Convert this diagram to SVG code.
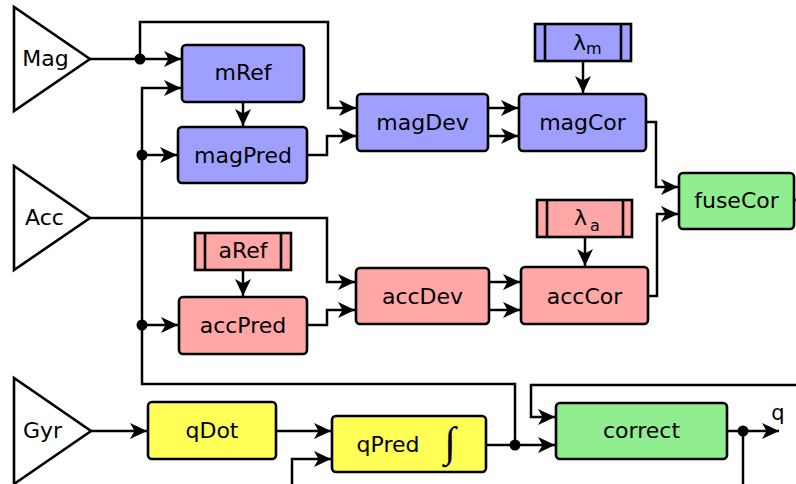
<svg xmlns="http://www.w3.org/2000/svg" width="796" height="484" viewBox="0 0 796 484">
<defs>
<marker id="arr" markerUnits="userSpaceOnUse" markerWidth="20" markerHeight="20" viewBox="-18 -10 20 20" refX="0" refY="0" orient="auto">
<path d="M0,0 L-17,-8 L-12.5,0 L-17,8 Z" fill="#000"/>
</marker>
<style>
.box{stroke:#000;stroke-width:2.6}
.blue{fill:#9f9fff}
.red{fill:#ffa6a6}
.green{fill:#90ee90}
.yellow{fill:#ffff55}
.tri{fill:#fff;stroke:#000;stroke-width:2.6;stroke-linejoin:miter}
.t{font-family:"DejaVu Sans",sans-serif;font-size:22px;fill:#000;text-anchor:middle}
.sub{font-size:16px}
.w{fill:none;stroke:#000;stroke-width:2.5}
.a{marker-end:url(#arr)}
.dot{fill:#000}
</style>
</defs>

<g id="connectors">
<path class="w a" d="M90,59 H181"/>
<path class="w a" d="M140,59 V22 H328 V108 H356"/>
<path class="w a" d="M307,155 H327 V136 H356"/>
<path class="w a" d="M243,102 V126"/>
<path class="w a" d="M515,445 V384 H142 V88 H181"/>
<path class="w a" d="M142,155 H177"/>
<path class="w a" d="M142,325 H178"/>
<path class="w a" d="M488,108 H518"/>
<path class="w a" d="M488,136 H518"/>
<path class="w a" d="M583,61 V93"/>
<path class="w a" d="M646,122 H656 V187 H678"/>
<path class="w a" d="M90,218 H327 V282 H355"/>
<path class="w a" d="M243,270 V296"/>
<path class="w a" d="M307,325 H327 V310 H355"/>
<path class="w a" d="M489,282 H520"/>
<path class="w a" d="M489,310 H520"/>
<path class="w a" d="M585,237 V266"/>
<path class="w a" d="M648,296 H657 V214 H678"/>
<path class="w" d="M794,200 H796"/>
<path class="w a" d="M91,431 H147"/>
<path class="w a" d="M276,431 H331"/>
<path class="w a" d="M292,484 V459 H331"/>
<path class="w a" d="M486,445 H555"/>
<path class="w a" d="M796,385 H531 V417 H555"/>
<path class="w a" d="M727,431 H779"/>
<path class="w" d="M743,431 V484"/>
<circle class="dot" cx="140" cy="59" r="5.5"/>
<circle class="dot" cx="142" cy="155" r="5.5"/>
<circle class="dot" cx="142" cy="325" r="5.5"/>
<circle class="dot" cx="515" cy="445" r="5.5"/>
<circle class="dot" cx="743" cy="431" r="5.5"/>
<text class="t" x="778" y="420" style="font-size:21px">q</text>
</g>

<g id="Mag">
<polygon class="tri" points="14,7 14,111 90,59"/>
<text class="t" x="45.5" y="66">Mag</text>
</g>
<g id="Acc">
<polygon class="tri" points="14,166 14,270 90,218"/>
<text class="t" x="44.5" y="225">Acc</text>
</g>
<g id="Gyr">
<polygon class="tri" points="14,378 14,484 91,431"/>
<text class="t" x="42.5" y="438">Gyr</text>
</g>

<g id="mRef">
<rect class="box blue" x="182" y="45" width="122" height="57" rx="4"/>
<text class="t" x="243" y="80">mRef</text>
</g>
<g id="magPred">
<rect class="box blue" x="178" y="127" width="129" height="56" rx="4"/>
<text class="t" x="243" y="163">magPred</text>
</g>
<g id="magDev">
<rect class="box blue" x="357" y="94" width="131" height="57" rx="4"/>
<text class="t" x="422.5" y="130">magDev</text>
</g>
<g id="magCor">
<rect class="box blue" x="519" y="94" width="127" height="57" rx="4"/>
<text class="t" x="582.5" y="130">magCor</text>
</g>
<g id="lambda_m">
<rect class="box blue" x="535" y="24" width="96" height="37"/>
<path class="w" d="M545,24 V61 M621,24 V61" style="stroke-width:2.6"/>
<text class="t" x="573" y="50" style="text-anchor:start">λ<tspan class="sub" dy="4">m</tspan></text>
</g>
<g id="fuseCor">
<rect class="box green" x="679" y="173" width="115" height="56" rx="4"/>
<text class="t" x="736.5" y="208">fuseCor</text>
</g>
<g id="aRef">
<rect class="box red" x="195" y="233" width="96" height="37"/>
<path class="w" d="M205,233 V270 M281,233 V270" style="stroke-width:2.6"/>
<text class="t" x="243" y="258">aRef</text>
</g>
<g id="accPred">
<rect class="box red" x="179" y="297" width="128" height="57" rx="4"/>
<text class="t" x="243" y="333">accPred</text>
</g>
<g id="accDev">
<rect class="box red" x="356" y="268" width="133" height="56" rx="4"/>
<text class="t" x="422.5" y="304">accDev</text>
</g>
<g id="accCor">
<rect class="box red" x="521" y="267" width="127" height="57" rx="4"/>
<text class="t" x="584.5" y="304">accCor</text>
</g>
<g id="lambda_a">
<rect class="box red" x="537" y="200" width="95" height="37"/>
<path class="w" d="M547,200 V237 M623,200 V237" style="stroke-width:2.6"/>
<text class="t" x="574" y="225" style="text-anchor:start">λ<tspan class="sub" dx="3" dy="6">a</tspan></text>
</g>
<g id="qDot">
<rect class="box yellow" x="148" y="402" width="128" height="57" rx="4"/>
<text class="t" x="212" y="438">qDot</text>
</g>
<g id="qPred">
<rect class="box yellow" x="332" y="416" width="154" height="56" rx="4"/>
<text class="t" x="388" y="452">qPred</text>
<text x="450" y="456" style="font-family:'Liberation Serif',serif;font-style:italic;font-size:42px;text-anchor:middle">∫</text>
</g>
<g id="correct">
<rect class="box green" x="556" y="403" width="171" height="56" rx="4"/>
<text class="t" x="641.5" y="438">correct</text>
</g>
</svg>
